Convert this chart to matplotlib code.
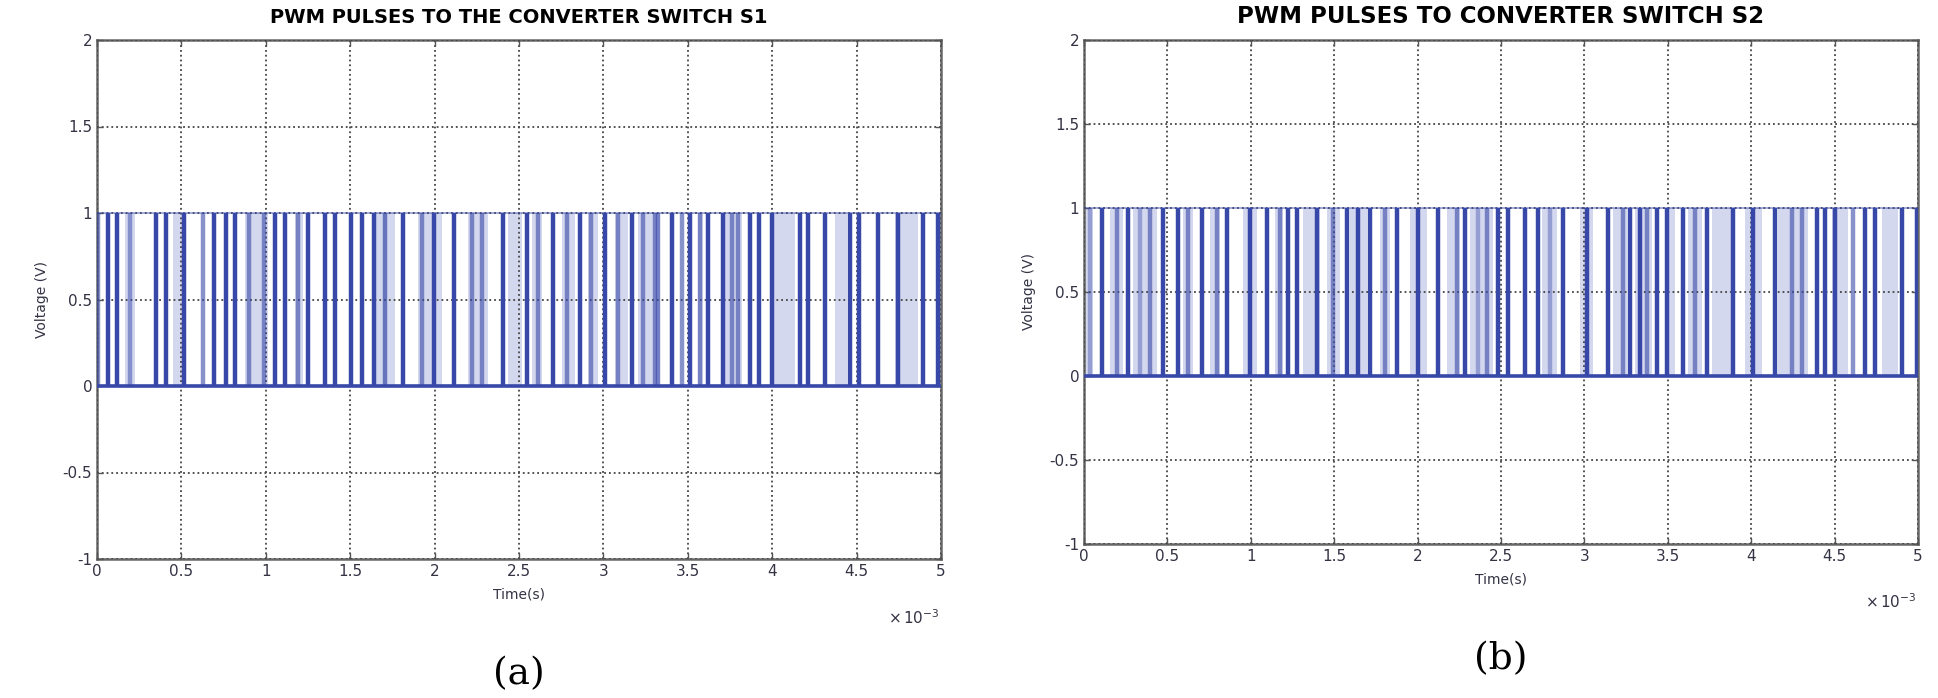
import numpy as np
import matplotlib
matplotlib.use("Agg")
import matplotlib.pyplot as plt
from matplotlib.colors import to_rgba

# ---------------- data (times in ms) ----------------
titles = ["PWM PULSES TO THE CONVERTER SWITCH S1", "PWM PULSES TO CONVERTER SWITCH S2"]
panel_labels = ["(a)", "(b)"]
xticks = [0, 0.5, 1, 1.5, 2, 2.5, 3, 3.5, 4, 4.5, 5]
xtick_labels = ["0", "0.5", "1", "1.5", "2", "2.5", "3", "3.5", "4", "4.5", "5"]
yticks = [-1, -0.5, 0, 0.5, 1, 1.5, 2]
ytick_labels = ["-1", "-0.5", "0", "0.5", "1", "1.5", "2"]
pulse_low = 0
pulse_high = 1

edges_a = [0.004, 0.063, 0.117, 0.196, 0.350, 0.409, 0.517, 0.630, 0.695, 0.762,
           0.818, 0.902, 0.991, 1.054, 1.114, 1.193, 1.252, 1.351, 1.410, 1.505,
           1.568, 1.643, 1.706, 1.815, 1.923, 1.998, 2.117, 2.220, 2.282, 2.407,
           2.545, 2.614, 2.703, 2.782, 2.861, 2.926, 3.009, 3.088, 3.167, 3.236,
           3.306, 3.325, 3.404, 3.463, 3.513, 3.572, 3.621, 3.710, 3.760, 3.799,
           3.868, 3.922, 3.997, 4.165, 4.214, 4.313, 4.461, 4.514, 4.625, 4.747,
           4.895, 4.984]
strength_a = [0.6, 1, 1, 0.5, 1, 1, 1, 0.6, 1, 1,
              1, 0.6, 0.6, 1, 1, 0.6, 1, 1, 1, 1,
              1, 1, 0.7, 1, 0.6, 1, 1, 0.6, 0.6, 1,
              1, 0.6, 1, 0.6, 1, 0.6, 1, 0.6, 1, 0.6,
              0.6, 0.6, 1, 0.6, 1, 0.6, 1, 1, 0.6, 0.6,
              1, 1, 1, 1, 1, 1, 1, 1, 1, 1,
              1, 1]
shade_start_a = [0.166, 0.452, 0.877, 1.173, 1.647, 1.903, 2.200, 2.437, 2.576, 2.753,
                 2.911, 3.069, 3.207, 3.562, 3.700, 4.006, 4.372, 4.728]
shade_end_a = [0.225, 0.502, 1.015, 1.222, 1.765, 2.042, 2.318, 2.516, 2.635, 2.832,
               2.970, 3.148, 3.335, 3.592, 3.819, 4.135, 4.441, 4.866]

edges_b = [0.036, 0.106, 0.196, 0.266, 0.336, 0.396, 0.476, 0.566, 0.626, 0.706,
           0.796, 0.856, 0.995, 1.096, 1.175, 1.225, 1.275, 1.395, 1.495, 1.575,
           1.645, 1.715, 1.805, 1.875, 2.004, 2.124, 2.234, 2.284, 2.364, 2.414,
           2.484, 2.544, 2.644, 2.724, 2.794, 2.873, 3.014, 3.143, 3.233, 3.273,
           3.333, 3.373, 3.433, 3.493, 3.593, 3.663, 3.733, 3.893, 4.013, 4.142,
           4.242, 4.302, 4.392, 4.442, 4.502, 4.612, 4.682, 4.742, 4.902, 4.995]
strength_b = [0.4, 1, 0.6, 1, 0.4, 0.6, 1, 1, 0.6, 1,
              0.6, 1, 1, 1, 0.6, 1, 1, 1, 0.6, 1,
              1, 1, 0.6, 1, 1, 1, 0.6, 1, 0.4, 0.6,
              1, 1, 1, 1, 0.4, 1, 1, 1, 0.6, 1,
              1, 0.6, 1, 1, 1, 0.6, 1, 1, 1, 1,
              0.6, 0.6, 1, 1, 1, 0.6, 1, 1, 1, 1]
shade_start_b = [0.000, 0.156, 0.296, 0.596, 0.755, 0.955, 1.145, 1.315, 1.455, 1.595,
                 1.655, 1.774, 1.954, 2.174, 2.314, 2.744, 2.973, 3.173, 3.303, 3.503,
                 3.623, 3.763, 3.963, 4.162, 4.482, 4.782]
shade_end_b = [0.056, 0.236, 0.436, 0.656, 0.815, 1.035, 1.195, 1.415, 1.535, 1.635,
               1.694, 1.834, 2.054, 2.254, 2.454, 2.834, 3.053, 3.253, 3.403, 3.543,
               3.703, 3.883, 4.063, 4.342, 4.582, 4.882]

# ---------------- figure ----------------
W, H = 1938, 698
fig = plt.figure(figsize=(W / 100, H / 100), dpi=100)
fig.patch.set_facecolor("white")

blue = "#3848a8"
light = "#d4d8ef"

# axes rectangles in pixels: (left, top, right, bottom)
rects = [(97, 40, 941, 559), (1084, 40, 1918, 544)]
title_sizes = [14, 16.5]
panels = [
    (edges_a, strength_a, shade_start_a, shade_end_a),
    (edges_b, strength_b, shade_start_b, shade_end_b),
]

for i, (l, t, r, b) in enumerate(rects):
    ax = fig.add_axes([l / W, 1 - b / H, (r - l) / W, (b - t) / H])
    edges, strength, s0, s1 = panels[i]
    ax.set_xlim(0, 5)
    ax.set_ylim(-1, 2)

    for a0, a1 in zip(s0, s1):
        ax.fill_between([a0, a1], pulse_low, pulse_high, color=light, lw=0, zorder=1)

    cols = [to_rgba(blue, alpha=s) for s in strength]
    ax.vlines(edges, pulse_low, pulse_high, colors=cols, lw=3.2, zorder=3)
    ax.hlines([pulse_high], 0, 5, colors=[to_rgba(blue, 0.45)], lw=1.4, zorder=3)
    ax.hlines([pulse_low], 0, 5, colors=[blue], lw=2.6, zorder=3)

    ax.set_xticks(xticks)
    ax.set_xticklabels(xtick_labels)
    ax.set_yticks(yticks)
    ax.set_yticklabels(ytick_labels)
    ax.grid(True, linestyle=":", color="#444444", lw=1.3, zorder=2)
    ax.set_axisbelow(False)
    ax.tick_params(direction="in", length=4, width=1, colors="#555555",
                   labelcolor="#333344", labelsize=11, top=True, right=True)
    for sp in ax.spines.values():
        sp.set_color("#666666")
        sp.set_linewidth(1.8)

    ax.set_title(titles[i], fontsize=title_sizes[i], fontweight="heavy", pad=12)
    ax.set_xlabel("Time(s)", fontsize=10, color="#333344", labelpad=6)
    ax.set_ylabel("Voltage (V)", fontsize=10, color="#333344", labelpad=10)
    ax.text(0.968, -0.095, r"$\times\,10^{-3}$", transform=ax.transAxes,
            fontsize=11, color="#333344", ha="center", va="top")
    fig.text(((l + r) / 2) / W, 1 - (b + 115) / H, panel_labels[i],
             fontsize=27, family="DejaVu Serif", ha="center", va="center")

fig.savefig("out.png", dpi=100)
